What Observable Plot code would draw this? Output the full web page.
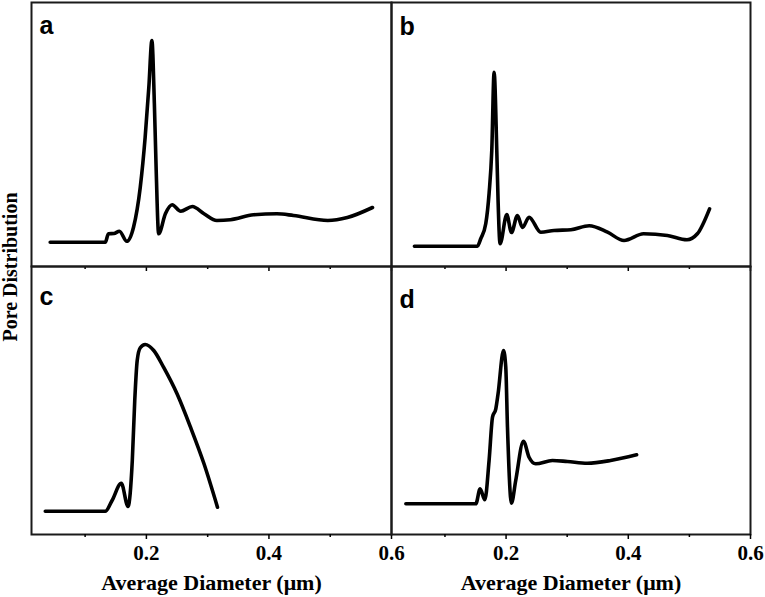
<!DOCTYPE html>
<html><head><meta charset="utf-8">
<script src="https://cdn.jsdelivr.net/npm/d3@7"></script>
<script src="https://cdn.jsdelivr.net/npm/@observablehq/plot@0.6"></script>
<style>
body{margin:0;background:#fff;}
#wrap{position:relative;width:765px;height:597px;overflow:hidden;background:#fff;}
#wrap svg{position:absolute;overflow:visible;}
#ylab{position:absolute;left:10px;top:267px;transform:translate(-50%,-50%) rotate(-90deg);font:bold 20px "Liberation Serif","Times New Roman",serif;white-space:nowrap;color:#000;}
</style></head><body>
<div id="wrap"><div id="ylab">Pore Distribution</div></div>
<script>
// ---- data (y in arbitrary units) ----
const diamA = [0.043,0.133,0.138,0.147,0.156,0.168,0.179,0.190,0.198,0.204,0.209,0.213,0.216,0.220,0.231,0.242,0.256,0.275,0.294,0.315,0.337,0.375,0.413,0.440,0.496,0.528,0.569];
const distA = [24.3,24.3,32.7,33,35.3,25.3,39.3,79.3,129.3,179.3,226,163,96,32.7,52.7,61.7,55.3,60,52.7,46,46.7,51.7,52.7,51,46,49,59];

const diamB = [0.050,0.153,0.1587,0.1668,0.1722,0.1766,0.1804,0.1848,0.1869,0.1902,0.2011,0.2088,0.2186,0.2268,0.2376,0.2567,0.2784,0.306,0.336,0.366,0.393,0.425,0.464,0.496,0.513,0.533];
const distB = [20.3,20.3,28,43,73,116,194.3,116,66,22.7,52,34,51,39,49.3,34.3,36,36.7,40.7,34.3,26,32.7,31,26.7,32.7,57.7];

const diamC = [0.035,0.133,0.144,0.159,0.170,0.177,0.181,0.185,0.190,0.198,0.212,0.228,0.250,0.272,0.294,0.316];
const distC = [23.3,23.3,34,51.3,28,74,134,174,186.7,190,184,167.3,140.7,107.3,70.7,27.3];

const diamD = [0.036,0.1505,0.1575,0.1652,0.1722,0.1778,0.1832,0.1869,0.1958,0.1995,0.2023,0.2088,0.2158,0.2284,0.2376,0.2485,0.2758,0.3003,0.333,0.371,0.4136];
const distD = [30.7,30.7,45.7,34.7,74,117.3,125.7,140.7,184,167.3,107.3,31.3,54,93.3,77.3,70.7,74,73,71.3,74,79.7];

const majorTicks = [0.2, 0.4, 0.6];
const minorTicks = [0.1, 0.3, 0.5];
const panelLabels = ["a", "b", "c", "d"];
const axisTitle = "Average Diameter (\u03bcm)";
const xDomain = [0.0125, 0.6];

const serif = "Liberation Serif, Times New Roman, serif";
const sans = "Liberation Sans, Arial, sans-serif";

function panel({xs, ys, label, labelDy, bottomRow, left, top, width, height, margins, yMax}) {
  const data = xs.map((x, i) => ({x, y: ys[i]}));
  const marks = [
    Plot.frame({stroke: "#1a1a1a", strokeWidth: 2}),
    Plot.line(data, {x: "x", y: "y", stroke: "#000", strokeWidth: 3.6, curve: "monotone-x", strokeLinejoin: "round", strokeLinecap: "round"}),
    Plot.axisX({ticks: majorTicks, tickSize: 5, strokeWidth: 1.5, tickFormat: () => "", label: null}),
    Plot.axisX({ticks: minorTicks, tickSize: 3, strokeWidth: 1.5, tickFormat: () => "", label: null}),
    Plot.text([label], {text: d => d, frameAnchor: "top-left", textAnchor: "start", lineAnchor: "bottom", dx: 8, dy: labelDy, fontSize: 25, fontWeight: "bold", fontFamily: sans, fill: "#000"})
  ];
  if (bottomRow) {
    marks.push(Plot.text(majorTicks, {x: d => d, text: d => d.toFixed(1), frameAnchor: "bottom", lineAnchor: "middle", dy: 19, fontSize: 21, fontWeight: "bold", fontFamily: serif, fill: "#000"}));
    marks.push(Plot.text([axisTitle], {text: d => d, frameAnchor: "bottom", lineAnchor: "middle", dy: 48, fontSize: 22, fontWeight: "bold", fontFamily: serif, fill: "#000"}));
  }
  const svg = Plot.plot({
    width, height,
    marginLeft: margins[0], marginRight: margins[1], marginTop: margins[2], marginBottom: margins[3],
    x: {domain: xDomain, axis: null},
    y: {domain: [0, yMax], axis: null},
    style: {background: "transparent", color: "#000", overflow: "visible"},
    marks
  });
  svg.style.left = left + "px";
  svg.style.top = top + "px";
  document.getElementById("wrap").appendChild(svg);
}

panel({xs: diamA, ys: distA, label: panelLabels[0], labelDy: 31, bottomRow: false, left: 0, top: 0, width: 400, height: 276, margins: [31, 9, 2, 10], yMax: 264});
panel({xs: diamB, ys: distB, label: panelLabels[1], labelDy: 32, bottomRow: false, left: 381, top: 0, width: 380, height: 276, margins: [10, 11, 2, 10], yMax: 264});
panel({xs: diamC, ys: distC, label: panelLabels[2], labelDy: 38, bottomRow: true, left: 0, top: 256, width: 420, height: 341, margins: [31, 29, 10, 63], yMax: 268});
panel({xs: diamD, ys: distD, label: panelLabels[3], labelDy: 41, bottomRow: true, left: 381, top: 256, width: 384, height: 341, margins: [10, 15, 10, 63], yMax: 268});
</script>
</body></html>
